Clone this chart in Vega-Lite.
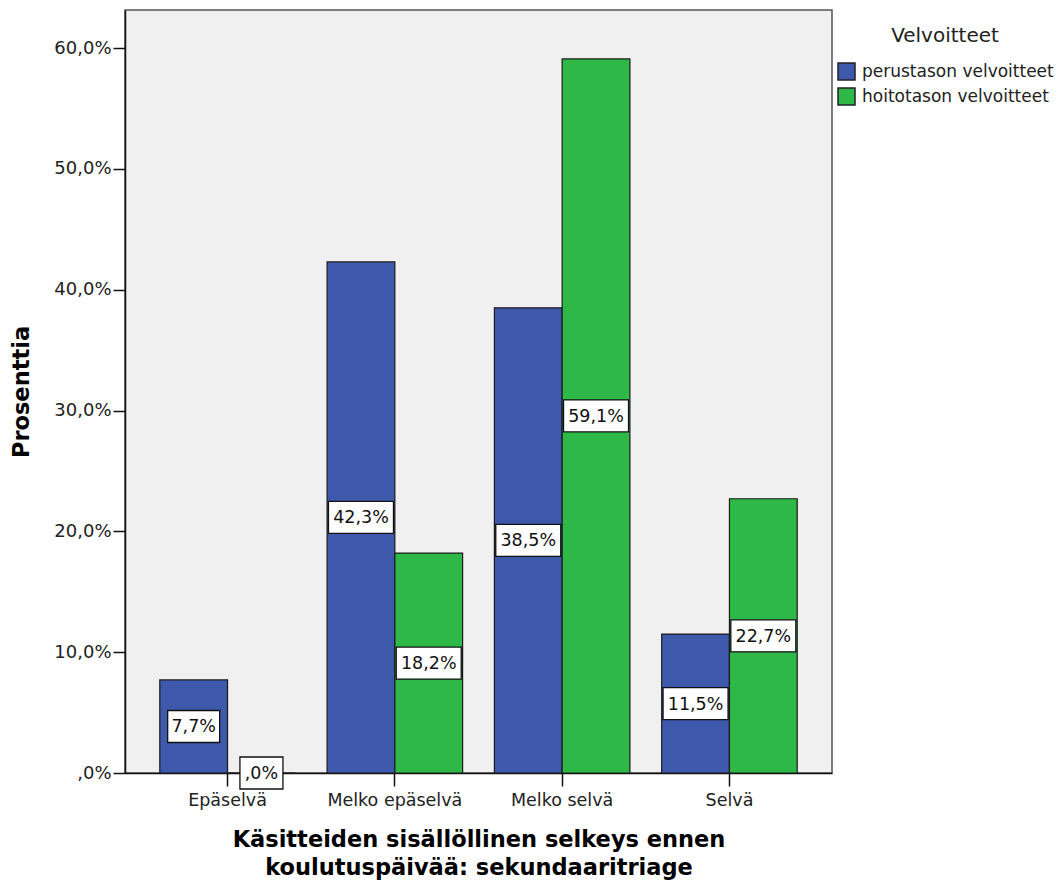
{
  "$schema": "https://vega.github.io/schema/vega-lite/v6.json",
  "autosize": {"type": "none"},
  "width": 707,
  "height": 763,
  "padding": {"left": 125, "top": 10, "right": 230, "bottom": 110},
  "background": "white",
  "config": {
    "view": {"fill": "#f0f0f0", "stroke": "#555555", "strokeWidth": 1.5},
    "font": "DejaVu Sans"
  },
  "data": {
    "values": [
      {"kategoria": "Epäselvä", "velvoitteet": "perustason velvoitteet", "pct": 7.7},
      {"kategoria": "Epäselvä", "velvoitteet": "hoitotason velvoitteet", "pct": 0.0},
      {"kategoria": "Melko epäselvä", "velvoitteet": "perustason velvoitteet", "pct": 42.3},
      {"kategoria": "Melko epäselvä", "velvoitteet": "hoitotason velvoitteet", "pct": 18.2},
      {"kategoria": "Melko selvä", "velvoitteet": "perustason velvoitteet", "pct": 38.5},
      {"kategoria": "Melko selvä", "velvoitteet": "hoitotason velvoitteet", "pct": 59.1},
      {"kategoria": "Selvä", "velvoitteet": "perustason velvoitteet", "pct": 11.5},
      {"kategoria": "Selvä", "velvoitteet": "hoitotason velvoitteet", "pct": 22.7}
    ]
  },
  "transform": [
    {"calculate": "(datum.pct < 1 ? replace(format(datum.pct, '.1f'), '0.', ',') : replace(format(datum.pct, '.1f'), '.', ',')) + '%'", "as": "label"}
  ],
  "encoding": {
    "x": {
      "field": "kategoria",
      "type": "nominal",
      "sort": ["Epäselvä", "Melko epäselvä", "Melko selvä", "Selvä"],
      "scale": {"paddingInner": 0.19, "paddingOuter": 0.208},
      "axis": {
        "title": ["Käsitteiden sisällöllinen selkeys ennen", "koulutuspäivää: sekundaaritriage"],
        "titleFont": "DejaVu Sans",
        "titleFontWeight": "bold",
        "titleFontSize": 22.5,
        "titleColor": "#000000",
        "titleLineHeight": 28,
        "titlePadding": 20,
        "labelAngle": 0,
        "labelFont": "DejaVu Sans",
        "labelFontSize": 17.5,
        "labelColor": "#222222",
        "labelPadding": 5,
        "tickSize": 13,
        "tickColor": "#111111",
        "tickWidth": 1.5,
        "domainColor": "#111111",
        "domainWidth": 1.5
      }
    },
    "xOffset": {
      "field": "velvoitteet",
      "type": "nominal",
      "sort": ["perustason velvoitteet", "hoitotason velvoitteet"],
      "scale": {"paddingInner": 0, "paddingOuter": 0}
    }
  },
  "layer": [
    {
      "mark": {"type": "bar", "stroke": "#1a1a1a", "strokeWidth": 1.2},
      "encoding": {
        "y": {
          "field": "pct",
          "type": "quantitative",
          "scale": {"domain": [0, 63.15], "nice": false},
          "axis": {
            "title": "Prosenttia",
            "titleFont": "DejaVu Sans",
            "titleFontWeight": "bold",
            "titleFontSize": 22.5,
            "titleColor": "#000000",
            "titlePadding": 20,
            "values": [0, 10, 20, 30, 40, 50, 60],
            "labelExpr": "datum.value == 0 ? ',0%' : replace(format(datum.value, '.1f'), '.', ',') + '%'",
            "labelFont": "DejaVu Sans",
            "labelFontSize": 18,
            "labelColor": "#222222",
            "labelPadding": 2,
            "tickSize": 12,
            "tickColor": "#111111",
            "tickWidth": 1.5,
            "domainColor": "#111111",
            "domainWidth": 1.5,
            "grid": false
          }
        },
        "color": {
          "field": "velvoitteet",
          "type": "nominal",
          "sort": ["perustason velvoitteet", "hoitotason velvoitteet"],
          "scale": {"domain": ["perustason velvoitteet", "hoitotason velvoitteet"], "range": ["#3E58AC", "#2EB848"]},
          "legend": {
            "title": "Velvoitteet",
            "orient": "none",
            "legendX": 712,
            "legendY": 16,
            "titleAnchor": "middle",
            "titleFont": "DejaVu Sans",
            "titleFontSize": 20,
            "titleFontWeight": "normal",
            "titleColor": "#222222",
            "titlePadding": 16,
            "labelFont": "DejaVu Sans",
            "labelFontSize": 17,
            "labelColor": "#222222",
            "labelLimit": 400,
            "labelOffset": 6,
            "symbolType": "square",
            "symbolSize": 289,
            "symbolStrokeColor": "#222222",
            "symbolStrokeWidth": 1.5,
            "symbolOpacity": 1,
            "rowPadding": 2
          }
        }
      }
    },
    {
      "mark": {"type": "point", "filled": true, "fill": "white", "stroke": "#111111", "strokeWidth": 1.3, "opacity": 1, "size": 4},
      "encoding": {
        "y": {"field": "pct", "type": "quantitative", "scale": {"domain": [0, 126.3], "nice": false}, "axis": null},
        "shape": {
          "condition": [
            {"test": "length(datum.label) <= 3", "value": "M-21.5,-16L21.5,-16L21.5,16L-21.5,16Z"},
            {"test": "length(datum.label) == 4", "value": "M-26,-16L26,-16L26,16L-26,16Z"}
          ],
          "value": "M-32.5,-16L32.5,-16L32.5,16L-32.5,16Z"
        }
      }
    },
    {
      "mark": {"type": "text", "font": "DejaVu Sans", "fontSize": 17.5, "color": "#111111", "baseline": "middle", "align": "center", "dy": 1},
      "encoding": {
        "y": {"field": "pct", "type": "quantitative", "scale": {"domain": [0, 126.3], "nice": false}, "axis": null},
        "text": {"field": "label", "type": "nominal"}
      }
    }
  ],
  "resolve": {"scale": {"y": "independent"}}
}
